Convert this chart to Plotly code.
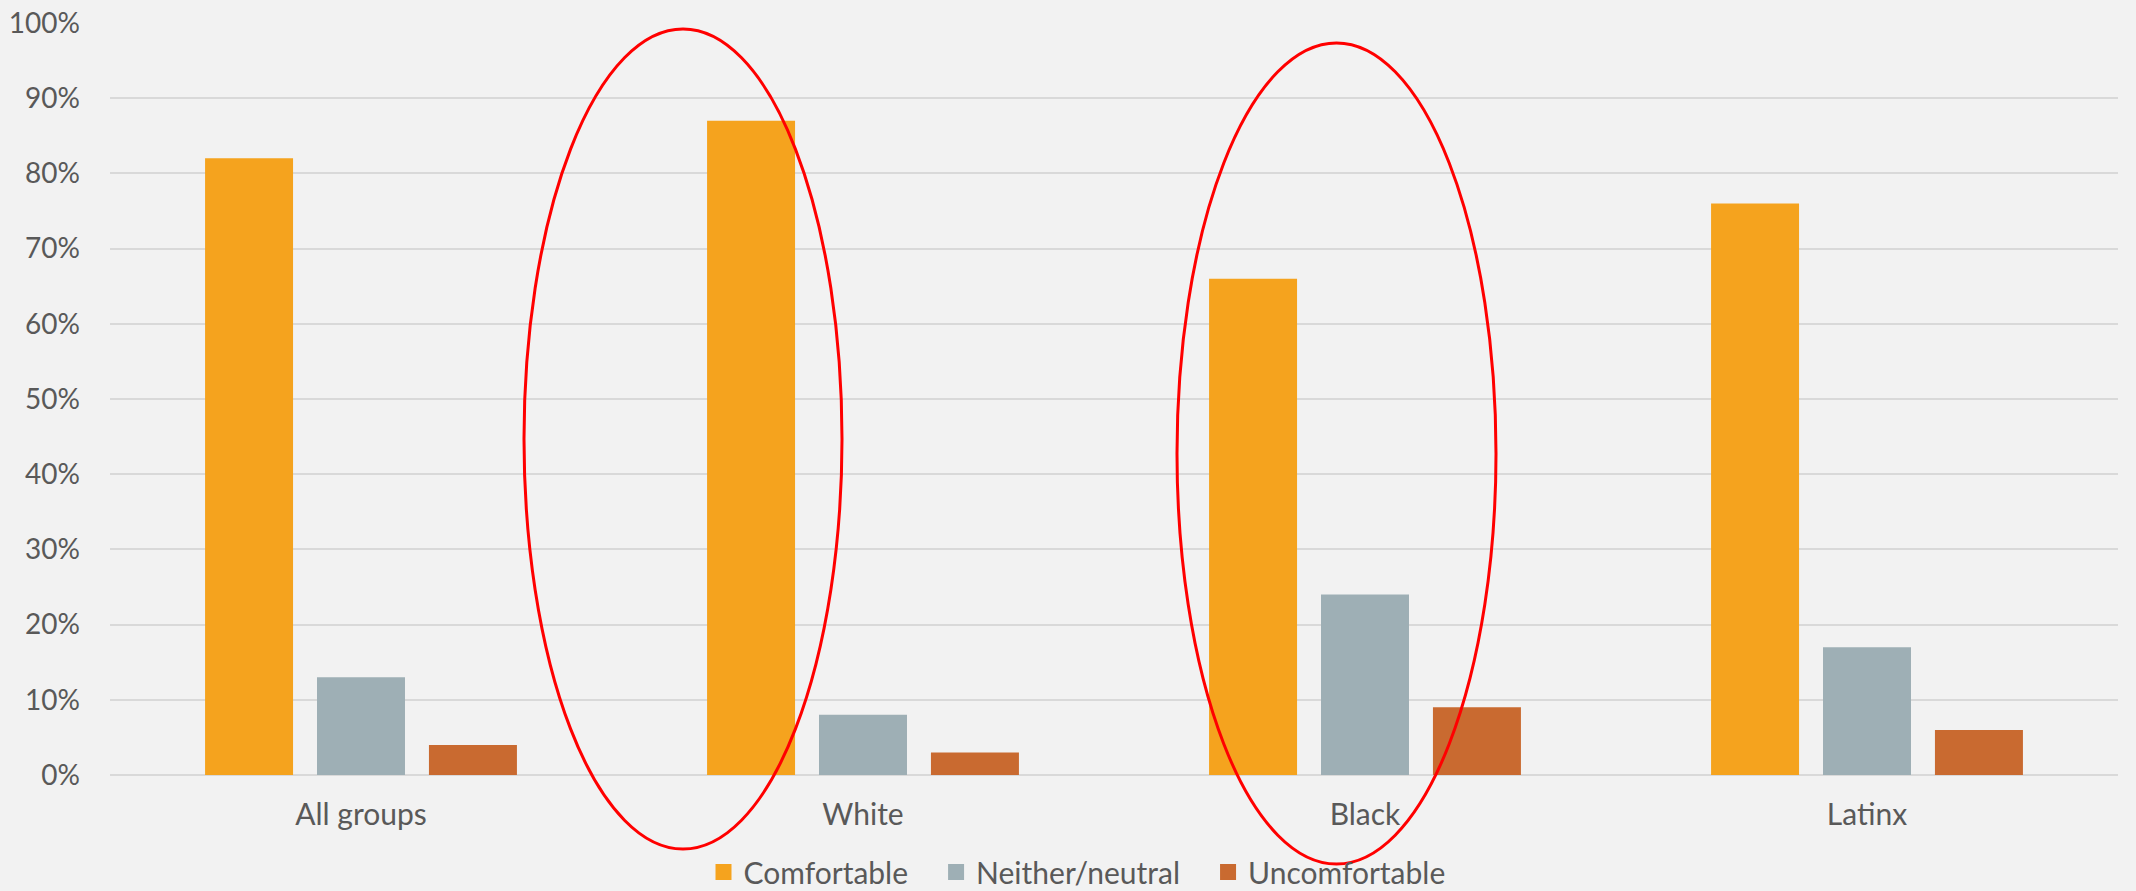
import plotly.graph_objects as go

categories = ["All groups", "White", "Black", "Latinx"]
comfortable = [82, 87, 66, 76]
neutral = [13, 8, 24, 17]
uncomfortable = [4, 3, 9, 6]
series_names = ["Comfortable", "Neither/neutral", "Uncomfortable"]
colors = ["#F5A31E", "#9EAFB5", "#C96A30"]
tick_vals = [0, 10, 20, 30, 40, 50, 60, 70, 80, 90, 100]
tick_text = [f"{v}%" for v in tick_vals]

W, H = 2136, 891
L, R, T, B = 110, 18, 23, 116
pw, ph = W - L - R, H - T - B

def px_to_paper_x(px):
    return (px - L) / pw

def px_to_paper_y(py):
    return (H - B - py) / ph

fig = go.Figure()
for name, vals, col in zip(series_names, [comfortable, neutral, uncomfortable], colors):
    fig.add_trace(go.Bar(x=categories, y=vals, name=name, showlegend=False,
                         legendgroup=name,
                         marker=dict(color=col, line=dict(width=0))))
# legend entries with larger square swatches (extra spacing after first two)
pad = "\u00a0\u00a0\u00a0"
legend_labels = [series_names[0] + pad, series_names[1] + pad, series_names[2]]
for name, label, col in zip(series_names, legend_labels, colors):
    fig.add_trace(go.Scatter(x=[None], y=[None], mode="markers", name=label,
                             legendgroup=name,
                             marker=dict(symbol="square", size=16, color=col)))

font_family = "Lato, 'Open Sans', sans-serif"
text_color = "#595959"

fig.update_layout(
    width=W, height=H,
    margin=dict(l=L, r=R, t=T, b=B, autoexpand=False),
    paper_bgcolor="#F2F2F2", plot_bgcolor="#F2F2F2",
    barmode="group", bargap=0.331, bargroupgap=0.214,
    font=dict(family=font_family, size=30, color=text_color),
    showlegend=True,
    legend=dict(orientation="h", xref="container", yref="container",
                x=1077 / W, xanchor="center",
                y=(H - 872) / H, yanchor="middle",
                font=dict(size=30, color=text_color), itemwidth=30,
                bgcolor="rgba(0,0,0,0)", traceorder="normal"),
    xaxis=dict(showgrid=False, showline=False, zeroline=False, ticks="",
               automargin=False,
               tickfont=dict(size=30, color=text_color), ticklabelstandoff=19),
    yaxis=dict(range=[0, 100], tickvals=tick_vals, ticktext=tick_text,
               automargin=False,
               showgrid=True, gridcolor="#D9D9D9", gridwidth=2,
               zeroline=True, zerolinecolor="#D9D9D9", zerolinewidth=2,
               showline=False, ticks="", ticklabelstandoff=29,
               tickfont=dict(size=28, color=text_color)),
)

ellipses = [(524, 29, 842, 849), (1177, 43, 1496, 864)]
for x0, y0, x1, y1 in ellipses:
    fig.add_shape(type="circle", xref="paper", yref="paper",
                  x0=px_to_paper_x(x0), x1=px_to_paper_x(x1),
                  y0=px_to_paper_y(y1), y1=px_to_paper_y(y0),
                  line=dict(color="#FF0000", width=3), layer="above")

fig.write_html("out.html", config={"displayModeBar": False},
               post_script="document.body.style.margin='0';document.body.style.background='#F2F2F2';")
